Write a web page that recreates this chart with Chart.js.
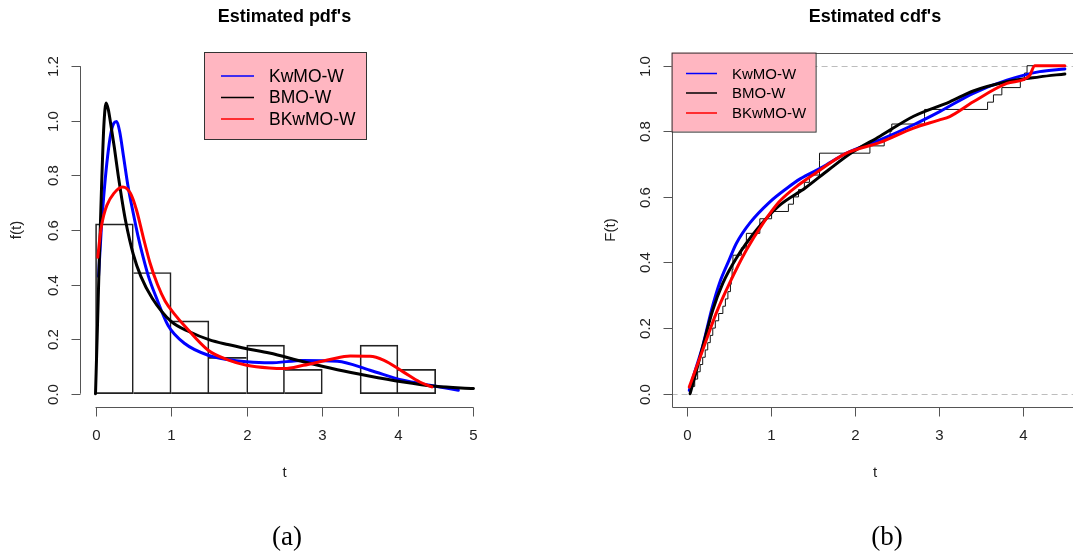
<!DOCTYPE html>
<html lang="en">
<head>
<meta charset="UTF-8">
<title>Estimated pdf's / cdf's</title>
<script src="https://cdn.jsdelivr.net/npm/chart.js"></script>
<style>
  html, body { margin: 0; padding: 0; background: #fff; width: 1073px; height: 556px; overflow: hidden; }
  canvas { position: absolute; top: 0; }
  #pdf { left: 0; }
  #cdf { left: 540px; }
</style>
</head>
<body>
<canvas id="pdf" width="540" height="556"></canvas>
<canvas id="cdf" width="560" height="556"></canvas>
<script>
// --- data ---
const seriesNames = ['KwMO-W', 'BMO-W', 'BKwMO-W'];
const seriesColors = ['#0000ff', '#000000', '#ff0000'];

// histogram: bin centres (width 0.5) and density heights
const binMids = [0.25, 0.75, 1.25, 1.75, 2.25, 2.75, 3.25, 3.75, 4.25];
const binDensity = [0.622, 0.444, 0.267, 0.133, 0.178, 0.089, 0, 0.178, 0.089];

// estimated pdf curves
const pdfBlueT = [0.04, 0.08, 0.12, 0.16, 0.2, 0.24, 0.28, 0.32, 0.37, 0.43, 0.5, 0.56, 0.63, 0.7, 0.8, 0.96, 1.18, 1.49, 1.75, 2, 2.3, 2.75, 3.2, 3.63, 4.07, 4.42, 4.8];
const pdfBlueF = [0.43, 0.62, 0.76, 0.87, 0.95, 0.99, 0.997, 0.96, 0.87, 0.76, 0.66, 0.58, 0.5, 0.43, 0.355, 0.25, 0.184, 0.141, 0.125, 0.117, 0.113, 0.122, 0.119, 0.086, 0.049, 0.031, 0.013];
const pdfBlackT = [0, 0.025, 0.05, 0.08, 0.11, 0.14, 0.17, 0.2, 0.25, 0.3, 0.35, 0.4, 0.5, 0.6, 0.75, 1, 1.25, 1.5, 1.75, 2, 2.3, 2.75, 3.2, 3.6, 4.05, 4.5, 5];
const pdfBlackF = [0, 0.24, 0.49, 0.76, 0.98, 1.065, 1.04, 0.99, 0.9, 0.8, 0.71, 0.63, 0.51, 0.43, 0.35, 0.265, 0.226, 0.198, 0.18, 0.165, 0.149, 0.117, 0.088, 0.066, 0.044, 0.027, 0.019];
const pdfRedT = [0.03, 0.07, 0.11, 0.15, 0.24, 0.36, 0.46, 0.54, 0.63, 0.72, 0.82, 0.92, 1.05, 1.18, 1.49, 1.76, 2, 2.3, 2.5, 2.75, 3.1, 3.37, 3.63, 3.81, 4.07, 4.29, 4.45];
const pdfRedF = [0.5, 0.6, 0.655, 0.69, 0.733, 0.757, 0.735, 0.675, 0.575, 0.48, 0.4, 0.34, 0.29, 0.248, 0.159, 0.123, 0.104, 0.094, 0.092, 0.104, 0.125, 0.138, 0.137, 0.123, 0.08, 0.043, 0.025];

// sample (sorted) used for the empirical cdf
const sample = [0.036, 0.095, 0.13, 0.16, 0.19, 0.22, 0.25, 0.28, 0.31, 0.34, 0.38, 0.43, 0.46, 0.49,
  0.52, 0.53, 0.54, 0.55, 0.55, 0.65, 0.71, 0.71, 0.87, 0.87,
  1.01, 1.21, 1.27, 1.33, 1.40, 1.46,
  1.58, 1.58, 1.58,
  2.18, 2.35, 2.42, 2.44,
  2.83, 2.83,
  3.58, 3.65, 3.75, 3.97,
  4.02, 4.05];
const ecdfEnd = 4.5;

// estimated cdf curves
const cdfBlueT = [0.03, 0.1, 0.19, 0.3, 0.39, 0.5, 0.59, 0.75, 0.99, 1.2, 1.35, 1.61, 1.89, 2.3, 2.7, 3.01, 3.41, 3.81, 4.2, 4.5];
const cdfBlueF = [0.01, 0.07, 0.145, 0.26, 0.337, 0.405, 0.458, 0.52, 0.585, 0.628, 0.655, 0.69, 0.732, 0.774, 0.82, 0.86, 0.916, 0.956, 0.982, 0.99];
const cdfBlackT = [0.04, 0.1, 0.19, 0.31, 0.43, 0.59, 0.83, 1.09, 1.41, 1.69, 1.97, 2.3, 2.7, 3.13, 3.41, 3.81, 4.2, 4.5];
const cdfBlackF = [0, 0.055, 0.143, 0.255, 0.337, 0.413, 0.499, 0.571, 0.627, 0.683, 0.736, 0.785, 0.846, 0.89, 0.923, 0.951, 0.966, 0.975];
const cdfRedT = [0.03, 0.19, 0.35, 0.51, 0.71, 0.91, 1.1, 1.35, 1.49, 1.89, 2.3, 2.7, 3.0, 3.13, 3.41, 3.81, 4.08, 4.14, 4.5];
const cdfRedF = [0.02, 0.133, 0.245, 0.337, 0.438, 0.52, 0.585, 0.64, 0.665, 0.732, 0.766, 0.81, 0.834, 0.845, 0.89, 0.946, 0.97, 1.0, 1.0];

// axis ticks
const pdfXTicks = [0, 1, 2, 3, 4, 5];
const pdfYTicks = [0, 0.2, 0.4, 0.6, 0.8, 1.0, 1.2];
const cdfXTicks = [0, 1, 2, 3, 4];
const cdfYTicks = [0, 0.2, 0.4, 0.6, 0.8, 1.0];

// --- helpers ---
const FONT = '"Liberation Sans", Arial, sans-serif';
const zip = (xs, ys) => xs.map((v, i) => ({ x: v, y: ys[i] }));

function curve(label, color, xs, ys) {
  return {
    type: 'line', label, data: zip(xs, ys),
    borderColor: color, borderWidth: 3, pointRadius: 0,
    cubicInterpolationMode: 'monotone',
    borderCapStyle: 'round', borderJoinStyle: 'round', fill: false
  };
}

// R-like axes, titles, legend
const rStyle = {
  id: 'rStyle',
  beforeDatasetsDraw(chart, args, o) {
    if (!o.dashed) return;
    const { ctx, chartArea: a, scales: { y } } = chart;
    ctx.save();
    ctx.strokeStyle = '#bdbdbd';
    ctx.lineWidth = 1;
    ctx.setLineDash([6, 4]);
    o.dashed.forEach(v => {
      const py = Math.round(y.getPixelForValue(v)) + 0.5;
      ctx.beginPath(); ctx.moveTo(a.left, py); ctx.lineTo(a.right, py); ctx.stroke();
    });
    ctx.restore();
  },
  afterDraw(chart, args, o) {
    const { ctx, chartArea: a, scales: { x, y } } = chart;
    ctx.save();
    ctx.strokeStyle = '#555';
    ctx.lineWidth = 1;
    ctx.fillStyle = '#222';
    const L = Math.round(a.left) + 0.5, B = Math.round(a.bottom) + 0.5;

    // y axis
    const yTop = y.getPixelForValue(o.yTicks[o.yTicks.length - 1]);
    const yBot = y.getPixelForValue(o.yTicks[0]);
    ctx.beginPath(); ctx.moveTo(L, yTop); ctx.lineTo(L, yBot); ctx.stroke();
    ctx.font = '15px ' + FONT;
    ctx.textAlign = 'center'; ctx.textBaseline = 'middle';
    o.yTicks.forEach(v => {
      const py = Math.round(y.getPixelForValue(v)) + 0.5;
      ctx.beginPath(); ctx.moveTo(L - 9, py); ctx.lineTo(L, py); ctx.stroke();
      ctx.save();
      ctx.translate(L - 27, py);
      ctx.rotate(-Math.PI / 2);
      ctx.fillText(v.toFixed(1), 0, 0);
      ctx.restore();
    });

    // x axis
    const xl = x.getPixelForValue(o.xTicks[0]);
    const xr = x.getPixelForValue(o.xTicks[o.xTicks.length - 1]);
    ctx.beginPath(); ctx.moveTo(xl, B); ctx.lineTo(xr, B); ctx.stroke();
    o.xTicks.forEach(v => {
      const px = Math.round(x.getPixelForValue(v)) + 0.5;
      ctx.beginPath(); ctx.moveTo(px, B); ctx.lineTo(px, B + 9); ctx.stroke();
      ctx.fillText(String(v), px, B + 28);
    });

    // box (top, left, bottom) for the cdf panel
    if (o.box) {
      const T = Math.round(a.top) + 0.5;
      ctx.beginPath();
      ctx.moveTo(a.right, T); ctx.lineTo(L, T); ctx.lineTo(L, B); ctx.lineTo(a.right, B);
      ctx.stroke();
    }

    // axis titles
    ctx.fillText('t', o.centerX, B + 65);
    ctx.save();
    ctx.translate(o.yLabelX, 230);
    ctx.rotate(-Math.PI / 2);
    ctx.fillText(o.yLabel, 0, 0);
    ctx.restore();

    // main title
    ctx.fillStyle = '#000';
    ctx.font = 'bold 18px ' + FONT;
    ctx.fillText(o.title, o.centerX, 17);

    // panel tag
    ctx.font = '27px "Liberation Serif", "Times New Roman", serif';
    ctx.fillText(o.tag, o.tagX, 538);

    // legend
    const lg = o.legend;
    ctx.fillStyle = '#ffb6c1';
    ctx.fillRect(lg.x, lg.y, lg.w, lg.h);
    ctx.strokeStyle = '#333';
    ctx.strokeRect(lg.x + 0.5, lg.y + 0.5, lg.w, lg.h);
    ctx.font = lg.size + 'px ' + FONT;
    ctx.textAlign = 'left';
    seriesNames.forEach((name, i) => {
      const ry = lg.rows[i];
      ctx.strokeStyle = seriesColors[i];
      ctx.lineWidth = 1.5;
      ctx.beginPath(); ctx.moveTo(lg.lx0, ry); ctx.lineTo(lg.lx1, ry); ctx.stroke();
      ctx.fillStyle = '#000';
      ctx.fillText(name, lg.tx, ry + 1);
    });
    ctx.restore();
  }
};

// histogram borders: avoid doubling shared edges
function histBorder(ctx) {
  const i = ctx.dataIndex, d = binDensity;
  const prev = i > 0 ? d[i - 1] : -1;
  const next = i < d.length - 1 ? d[i + 1] : -1;
  return { top: 1, bottom: 1, left: prev <= d[i] ? 1 : 0, right: next < d[i] ? 1 : 0 };
}

// --- left panel: estimated pdf's ---
new Chart(document.getElementById('pdf'), {
  type: 'line',
  data: {
    datasets: [
      curve(seriesNames[2], seriesColors[2], pdfRedT, pdfRedF),
      curve(seriesNames[1], seriesColors[1], pdfBlackT, pdfBlackF),
      curve(seriesNames[0], seriesColors[0], pdfBlueT, pdfBlueF),
      {
        type: 'bar', label: 'hist', data: zip(binMids, binDensity),
        backgroundColor: 'rgba(0,0,0,0)', borderColor: '#222',
        borderWidth: histBorder, borderSkipped: false,
        barPercentage: 1, categoryPercentage: 1
      }
    ]
  },
  options: {
    responsive: false, animation: false, events: [],
    layout: { padding: { left: 80.4, right: 51.4, top: 53.1, bottom: 149.2 } },
    scales: {
      x: { type: 'linear', min: -0.2, max: 5.2, offset: false, display: false },
      y: { type: 'linear', min: -0.048, max: 1.248, display: false }
    },
    plugins: {
      legend: { display: false }, tooltip: { enabled: false },
      rStyle: {
        xTicks: pdfXTicks, yTicks: pdfYTicks,
        title: "Estimated pdf's", yLabel: 'f(t)', yLabelX: 17, centerX: 284.5, tag: '(a)', tagX: 287,
        legend: { x: 204, y: 52, w: 162, h: 87, size: 17.5, lx0: 221, lx1: 254, tx: 269, rows: [76, 97.5, 119] }
      }
    }
  },
  plugins: [rStyle]
});

// --- right panel: estimated cdf's ---
const ecdfPts = [{ x: sample[0], y: 0 }];
sample.forEach((v, i) => ecdfPts.push({ x: v, y: (i + 1) / sample.length }));
ecdfPts.push({ x: ecdfEnd, y: 1 });

new Chart(document.getElementById('cdf'), {
  type: 'line',
  data: {
    datasets: [
      curve(seriesNames[2], seriesColors[2], cdfRedT, cdfRedF),
      curve(seriesNames[1], seriesColors[1], cdfBlackT, cdfBlackF),
      curve(seriesNames[0], seriesColors[0], cdfBlueT, cdfBlueF),
      {
        type: 'line', label: 'ecdf', data: ecdfPts, stepped: 'before',
        borderColor: '#111', borderWidth: 1, pointRadius: 0, fill: false
      }
    ]
  },
  options: {
    responsive: false, animation: false, events: [],
    layout: { padding: { left: 131.6, right: 20, top: 52.6, bottom: 149.2 } },
    scales: {
      x: { type: 'linear', min: -0.18, max: 4.68, offset: false, display: false },
      y: { type: 'linear', min: -0.04, max: 1.04, display: false }
    },
    plugins: {
      legend: { display: false }, tooltip: { enabled: false },
      rStyle: {
        xTicks: cdfXTicks, yTicks: cdfYTicks, box: true, dashed: [0, 1],
        title: "Estimated cdf's", yLabel: 'F(t)', yLabelX: 71, centerX: 335, tag: '(b)', tagX: 347,
        legend: { x: 131.6, y: 52.6, w: 144, h: 79, size: 15, lx0: 146, lx1: 177, tx: 192, rows: [73.5, 93, 113] }
      }
    }
  },
  plugins: [rStyle]
});
</script>
</body>
</html>
